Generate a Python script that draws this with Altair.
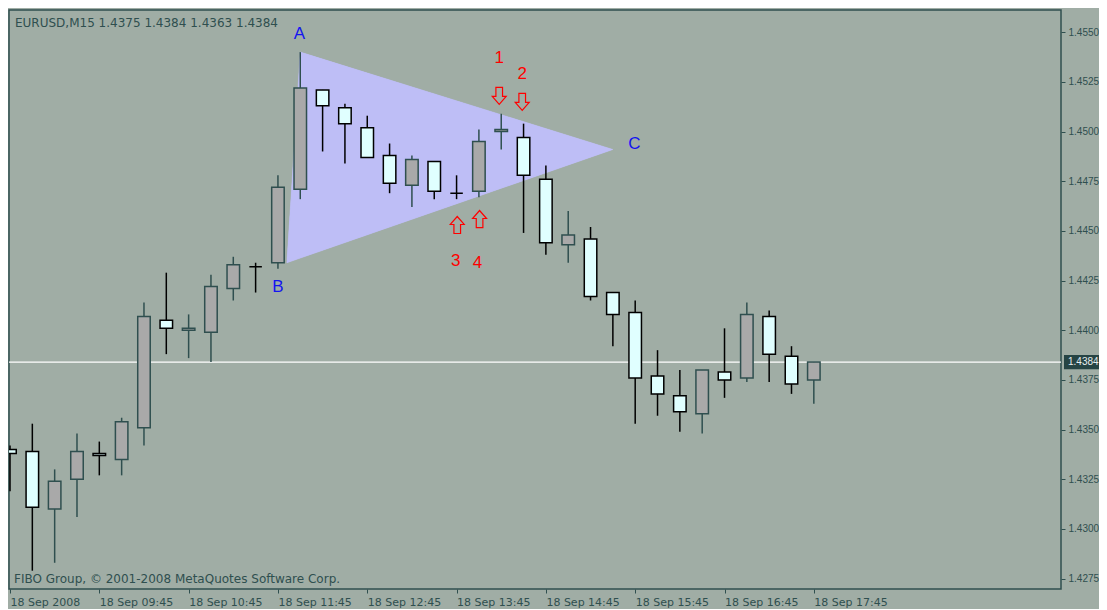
import altair as alt
import pandas as pd

# ---------------- data ----------------
idx = list(range(37))
opens = [1.4340, 1.4339, 1.4310, 1.4325, 1.4338, 1.4335, 1.4351, 1.4405, 1.4400, 1.4399,
         1.4421, 1.4432, 1.4434, 1.4471, 1.4521, 1.4512, 1.4502, 1.4488, 1.4473, 1.4485,
         1.4469, 1.4470, 1.4500, 1.4497, 1.4476, 1.4443, 1.4446, 1.4419, 1.4409, 1.4377,
         1.4367, 1.4358, 1.4379, 1.4376, 1.4407, 1.4387, 1.4375]
highs = [1.4342, 1.4353, 1.4330, 1.4348, 1.4344, 1.4356, 1.4414, 1.4429, 1.4408, 1.4428,
         1.4437, 1.4434, 1.4478, 1.4540, 1.4521, 1.4514, 1.4508, 1.4494, 1.4488, 1.4485,
         1.4478, 1.4501, 1.4509, 1.4504, 1.4483, 1.4460, 1.4452, 1.4419, 1.4415, 1.4390,
         1.4380, 1.4380, 1.4401, 1.4414, 1.4410, 1.4392, 1.4384]
lows = [1.4319, 1.4279, 1.4283, 1.4306, 1.4327, 1.4327, 1.4342, 1.4388, 1.4386, 1.4384,
        1.4415, 1.4419, 1.4431, 1.4466, 1.4490, 1.4484, 1.4487, 1.4469, 1.4462, 1.4466,
        1.4466, 1.4467, 1.4491, 1.4449, 1.4438, 1.4434, 1.4415, 1.4392, 1.4353, 1.4357,
        1.4349, 1.4348, 1.4366, 1.4374, 1.4374, 1.4368, 1.4363]
closes = [1.4338, 1.4311, 1.4324, 1.4339, 1.4337, 1.4354, 1.4407, 1.4401, 1.4401, 1.4422,
          1.4433, 1.4432, 1.4472, 1.4522, 1.4513, 1.4504, 1.4487, 1.4474, 1.4486, 1.4470,
          1.4469, 1.4495, 1.4501, 1.4478, 1.4444, 1.4448, 1.4417, 1.4408, 1.4376, 1.4368,
          1.4359, 1.4380, 1.4375, 1.4408, 1.4388, 1.4373, 1.4384]

x_tick_values = [0, 4, 8, 12, 16, 20, 24, 28, 32, 36]
x_tick_labels = ["18 Sep 2008", "18 Sep 09:45", "18 Sep 10:45", "18 Sep 11:45",
                 "18 Sep 12:45", "18 Sep 13:45", "18 Sep 14:45", "18 Sep 15:45",
                 "18 Sep 16:45", "18 Sep 17:45"]
y_tick_values = [1.4275, 1.4300, 1.4325, 1.4350, 1.4375, 1.4400, 1.4425,
                 1.4450, 1.4475, 1.4500, 1.4525, 1.4550]

current_price = 1.4384
title_text = "EURUSD,M15  1.4375 1.4384 1.4363 1.4384"
footer_text = "FIBO Group, \u00a9 2001-2008 MetaQuotes Software Corp."

# triangle vertices A, B, C (bar index, price)
tri_x = [13.0, 12.4, 27.0]
tri_p = [1.4540, 1.4434, 1.4491]

# letter labels
blue_text = ["A", "B", "C"]
blue_x = [12.96, 12.0, 27.96]
blue_p = [1.4549, 1.4422, 1.4494]
red_text = ["1", "2", "3", "4"]
red_x = [21.91, 22.94, 19.96, 20.94]
red_p = [1.4537, 1.4529, 1.4435, 1.4434]

# arrow markers
arr_x = [21.91, 22.94, 20.03, 21.03]
arr_p = [1.4518, 1.4515, 1.4453, 1.4456]
arr_dir = ["down", "down", "up", "up"]

# ---------------- styling ----------------
BG = "#A0ADA5"
SLATE = "#2F4F4F"
BULL_FILL = "#A9A9A9"
BEAR_FILL = "#E0FFFF"
TRI = "#BEBEF6"
FONT = "DejaVu Sans"
W, H = 1052, 579

xs = alt.Scale(domain=[-0.045, 47.07], nice=False, zero=False)
ys = alt.Scale(domain=[1.42698, 1.45612], nice=False, zero=False)

label_js = "[" + ",".join("'" + s + "'" for s in x_tick_labels) + "]"
xaxis = alt.Axis(values=x_tick_values, labelExpr=label_js + "[round(datum.value/4)]",
                 title=None, grid=False, domain=False, tickColor=SLATE, tickSize=4,
                 labelAlign="left", labelBaseline="top", labelPadding=3,
                 labelColor=SLATE, labelFontSize=11, labelFont=FONT,
                 labelOverlap=False, labelFlush=False, orient="bottom")
yaxis = alt.Axis(values=y_tick_values, format=".4f", title=None, grid=False,
                 domain=False, tickColor=SLATE, tickSize=4, orient="right",
                 labelAlign="left", labelBaseline="middle", labelPadding=3,
                 labelColor=SLATE, labelFontSize=10, labelFont="Liberation Sans",
                 labelOverlap=False, labelFlush=False)


def X(field):
    return alt.X(field, type="quantitative", scale=xs, axis=xaxis)


def Y(field):
    return alt.Y(field, type="quantitative", scale=ys, axis=yaxis, stack=None)


df = pd.DataFrame({"i": idx, "o": opens, "h": highs, "l": lows, "c": closes})
df["bull"] = df["c"] > df["o"]
dir_dom = [True, False]

# triangle: area between the upper edge (B-A-C) and the lower edge (B-C)
A = (tri_x[0], tri_p[0]); B = (tri_x[1], tri_p[1]); C = (tri_x[2], tri_p[2])
bot_at_A = B[1] + (A[0] - B[0]) / (C[0] - B[0]) * (C[1] - B[1])
tri_df = pd.DataFrame({"tx": [B[0], A[0], C[0]],
                       "ttop": [B[1], A[1], C[1]],
                       "tbot": [B[1], bot_at_A, C[1]]})
tri = alt.Chart(tri_df).mark_area(color=TRI, opacity=1, line=False).encode(
    x=X("tx"), y=Y("ttop"), y2="tbot:Q")

# filled outline polygon of the same shape
poly_df = pd.DataFrame({"px": [B[0], A[0], C[0], B[0]],
                        "pp": [B[1], A[1], C[1], B[1]],
                        "k": [0, 1, 2, 3]})
poly = alt.Chart(poly_df).mark_line(color=TRI, fill=TRI, strokeWidth=0.5).encode(
    x=X("px"), y=Y("pp"), order="k:Q")

price_df = pd.DataFrame({"p": [current_price],
                         "lo": [current_price - 0.00036],
                         "hi": [current_price + 0.00036],
                         "t": [f"{current_price:.4f}"]})
hline = alt.Chart(price_df).mark_rule(color="white", strokeWidth=1.2).encode(y=Y("p"))

wicks = alt.Chart(df).mark_rule(strokeWidth=1.5, clip=True).encode(
    x=X("i"), y=Y("l"), y2="h:Q",
    color=alt.Color("bull:N", scale=alt.Scale(domain=dir_dom, range=[SLATE, "black"]),
                    legend=None))

bodies = alt.Chart(df).transform_calculate(
    xl="datum.i - 0.28", xr="datum.i + 0.28"
).mark_rect(strokeWidth=1.5, clip=True).encode(
    x=X("xl"), x2="xr:Q", y=Y("o"), y2="c:Q",
    fill=alt.Fill("bull:N", scale=alt.Scale(domain=dir_dom, range=[BULL_FILL, BEAR_FILL]),
                  legend=None),
    stroke=alt.Stroke("bull:N", scale=alt.Scale(domain=dir_dom, range=[SLATE, "black"]),
                      legend=None))

blue_df = pd.DataFrame({"t": blue_text, "x": blue_x, "p": blue_p})
blue_labels = alt.Chart(blue_df).mark_text(font="Liberation Sans", fontSize=17,
                                           align="center", baseline="middle",
                                           color="#1414F0").encode(
    x=X("x"), y=Y("p"), text="t:N")
red_df = pd.DataFrame({"t": red_text, "x": red_x, "p": red_p})
red_labels = alt.Chart(red_df).mark_text(font="Liberation Sans", fontSize=17,
                                         align="center", baseline="middle",
                                         color="#FF0000").encode(
    x=X("x"), y=Y("p"), text="t:N")

arr_df = pd.DataFrame({"x": arr_x, "p": arr_p, "d": arr_dir})
down_path = "M -0.39 -1 L 0.39 -1 L 0.39 0.06 L 0.82 0.06 L 0 1 L -0.82 0.06 L -0.39 0.06 Z"
up_path = "M -0.39 1 L 0.39 1 L 0.39 -0.06 L 0.82 -0.06 L 0 -1 L -0.82 -0.06 L -0.39 -0.06 Z"
arrows = alt.Chart(arr_df).mark_point(filled=False, size=289, strokeWidth=1.2,
                                      color="#FF0000", opacity=1).encode(
    x=X("x"), y=Y("p"),
    shape=alt.Shape("d:N", scale=alt.Scale(domain=["down", "up"],
                                           range=[down_path, up_path]), legend=None))

txt_df = pd.DataFrame({"t": [title_text]})
title_mark = alt.Chart(txt_df).mark_text(align="left", baseline="alphabetic",
                                         font=FONT, fontSize=12, color=SLATE).encode(
    x=alt.value(6), y=alt.value(16.5), text="t:N")
foot_df = pd.DataFrame({"t": [footer_text]})
foot_mark = alt.Chart(foot_df).mark_text(align="left", baseline="alphabetic",
                                         font=FONT, fontSize=12, color=SLATE).encode(
    x=alt.value(5), y=alt.value(572.5), text="t:N")

box = alt.Chart(price_df).mark_rect(color="#264444").encode(
    x=alt.value(W + 3), x2=alt.value(W + 40), y=Y("lo"), y2="hi:Q")
box_txt = alt.Chart(price_df).mark_text(align="left", baseline="middle",
                                        font="Liberation Sans", fontSize=10,
                                        color="#E6EEEE").encode(
    x=alt.value(W + 7), y=Y("p"), text="t:N")

chart = alt.layer(tri, poly, hline, wicks, bodies, blue_labels, red_labels, arrows,
                  title_mark, foot_mark, box, box_txt).properties(
    width=W, height=H,
    background=BG,
    autosize=alt.AutoSizeParams(type="none"),
    padding={"left": 1, "top": 2, "right": 38, "bottom": 20},
).configure_view(stroke=SLATE, strokeWidth=1.5)

chart.save("out.html", embed_options={"renderer": "svg", "actions": False})
